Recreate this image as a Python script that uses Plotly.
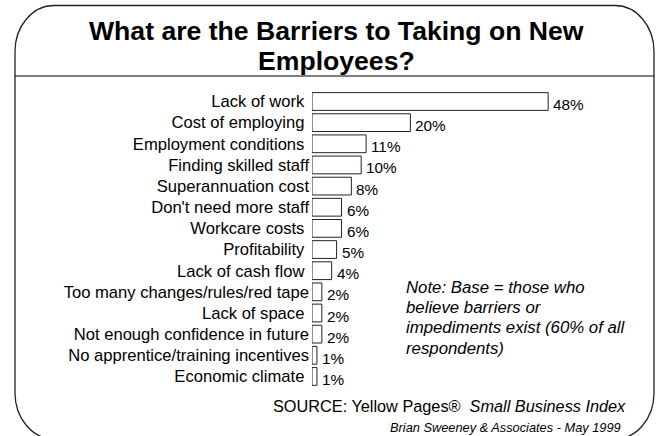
import plotly.graph_objects as go

# Survey results: barriers to taking on new employees (% of respondents)
barriers = [
    "Lack of work",
    "Cost of employing",
    "Employment conditions",
    "Finding skilled staff",
    "Superannuation cost",
    "Don't need more staff",
    "Workcare costs",
    "Profitability",
    "Lack of cash flow",
    "Too many changes/rules/red tape",
    "Lack of space",
    "Not enough confidence in future",
    "No apprentice/training incentives",
    "Economic climate",
]
percent = [48, 20, 11, 10, 8, 6, 6, 5, 4, 2, 2, 2, 1, 1]

# axis labels as typed on the slide (some carry a trailing space)
NBSP = "\u00a0"
tick_labels = [
    "Lack of work" + NBSP,
    "Cost of employing" + NBSP,
    "Employment conditions" + NBSP,
    "Finding skilled staff",
    "Superannuation cost",
    "Don't need more staff",
    "Workcare costs" + NBSP,
    "Profitability" + NBSP,
    "Lack of cash flow" + NBSP,
    "Too many changes/rules/red tape",
    "Lack of space" + NBSP,
    "Not enough confidence in future",
    "No apprentice/training incentives",
    "Economic climate" + NBSP,
]

title_lines = ["What are the Barriers to Taking on New", "Employees?"]
note_lines = ["Note: Base = those who", "believe barriers or",
              "impediments exist (60% of all", "respondents)"]
source_text = "SOURCE: Yellow Pages®  <i>Small Business Index</i>"
credit_text = "Brian Sweeney & Associates - May 1999"

W, H = 657, 436
FONT = "Arial, Liberation Sans, sans-serif"


def px(x):
    return x / W


def py(y):
    return 1 - y / H


# page geometry (pixels)
row0, row_step = 101.5, 21.15
axis_left, px_per_pct = 312.0, 4.92

fig = go.Figure()
fig.add_trace(go.Bar(
    x=percent,
    y=barriers,
    orientation="h",
    width=0.84,
    marker=dict(color="white", line=dict(color="#222222", width=1)),
    hoverinfo="skip",
))

# value labels to the right of each bar
annotations = []
for name, v in zip(barriers, percent):
    annotations.append(dict(
        x=v, y=name, xref="x", yref="y", text=f"{v}%", showarrow=False,
        xanchor="left", yanchor="middle", xshift=3, yshift=-3,
        font=dict(family=FONT, size=15.3, color="black"),
    ))

# title
for i, line in enumerate(title_lines):
    annotations.append(dict(
        x=px(336), y=py(31 + 29.5 * i), xref="paper", yref="paper",
        text=f"<b>{line}</b>", showarrow=False, xanchor="center", yanchor="middle",
        font=dict(family=FONT, size=26.6, color="black"),
    ))

# note
for i, line in enumerate(note_lines):
    annotations.append(dict(
        x=px(404), y=py(287 + 20.4 * i), xref="paper", yref="paper",
        text=f"<i>{line}</i>", showarrow=False, xanchor="left", yanchor="middle",
        font=dict(family=FONT, size=16.8, color="black"),
    ))

# source lines
annotations.append(dict(
    x=px(271), y=py(406), xref="paper", yref="paper", text=source_text,
    showarrow=False, xanchor="left", yanchor="middle",
    font=dict(family=FONT, size=16.3, color="black"),
))
annotations.append(dict(
    x=px(623), y=py(427), xref="paper", yref="paper", text=f"<i>{credit_text}</i>",
    showarrow=False, xanchor="right", yanchor="middle",
    font=dict(family=FONT, size=12.8, color="black"),
))

# rounded frame (bottom edge runs past the page)
L, R, T, B = 15.0, 654.0, 5.5, 439.0
rx, ry = 39.0, 46.0
k = 0.5523


def P(x, y):
    return f"{px(x):.5f},{py(y):.5f}"


frame = (
    f"M {P(L, T + ry)} "
    f"C {P(L, T + ry - k * ry)} {P(L + rx - k * rx, T)} {P(L + rx, T)} "
    f"L {P(R - rx, T)} "
    f"C {P(R - rx + k * rx, T)} {P(R, T + ry - k * ry)} {P(R, T + ry)} "
    f"L {P(R, B - ry)} "
    f"C {P(R, B - ry + k * ry)} {P(R - rx + k * rx, B)} {P(R - rx, B)} "
    f"L {P(L + rx, B)} "
    f"C {P(L + rx - k * rx, B)} {P(L, B - ry + k * ry)} {P(L, B - ry)} Z"
)
shapes = [
    dict(type="path", xref="paper", yref="paper", path=frame,
         line=dict(color="#222222", width=1.3)),
    dict(type="line", xref="paper", yref="paper", x0=px(L), x1=px(R),
         y0=py(76), y1=py(76), line=dict(color="black", width=1.2)),
]

fig.update_layout(
    width=W, height=H,
    margin=dict(l=0, r=0, t=0, b=0),
    paper_bgcolor="white", plot_bgcolor="rgba(0,0,0,0)",
    showlegend=False,
    font=dict(family=FONT, color="black"),
    xaxis=dict(
        domain=[px(axis_left), 1],
        range=[0, (W - axis_left) / px_per_pct],
        visible=False, fixedrange=True,
    ),
    yaxis=dict(
        type="category", categoryorder="array", categoryarray=barriers,
        tickmode="array", tickvals=barriers, ticktext=tick_labels,
        range=[(H - row0) / row_step, -row0 / row_step],
        showgrid=False, zeroline=False, showline=False, ticks="",
        ticklabelstandoff=2,
        tickfont=dict(family=FONT, size=16.6, color="black"),
        fixedrange=True,
    ),
    annotations=annotations,
    shapes=shapes,
)

fig.write_html("out.html")
